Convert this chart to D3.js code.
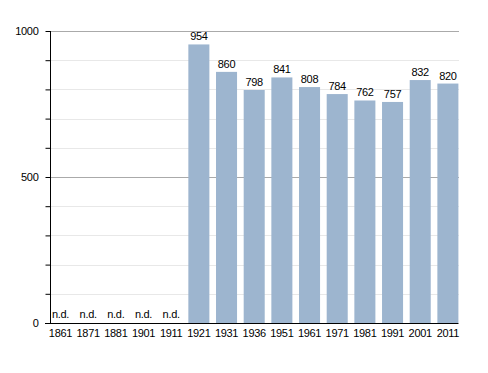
<!DOCTYPE html>
<html><head><meta charset="utf-8">
<script src="https://cdn.jsdelivr.net/npm/d3@7/dist/d3.min.js"></script>
<style>body{margin:0;background:#fff}svg{display:block}text{font-family:"Liberation Sans",Arial,sans-serif;letter-spacing:-0.3px}</style>
</head><body><svg id="c" width="488" height="373"></svg>
<script>
const years = ["1861","1871","1881","1901","1911","1921","1931","1936","1951","1961","1971","1981","1991","2001","2011"];
const values = [null,null,null,null,null,954,860,798,841,808,784,762,757,832,820];
const yTicks = [0,500,1000];
const minorTicks = [100,200,300,400,600,700,800,900];

const svg = d3.select("#c");
const x = d3.scaleBand().domain(years).range([50,458.4]).paddingInner(0.24).paddingOuter(0);
const y = d3.scaleLinear().domain([0,1000]).range([323,31]);

// gridlines
svg.append("g").selectAll("line").data(minorTicks).join("line")
  .attr("x1",50).attr("x2",459).attr("y1",d=>Math.round(y(d))+0.5).attr("y2",d=>Math.round(y(d))+0.5)
  .attr("stroke","#e8e8e8").attr("stroke-width",1);
svg.append("g").selectAll("line").data([500,1000]).join("line")
  .attr("x1",50).attr("x2",459).attr("y1",d=>Math.round(y(d))+0.5).attr("y2",d=>Math.round(y(d))+0.5)
  .attr("stroke","#aaaaaa").attr("stroke-width",1);

// bars
const data = years.map((k,i)=>({k, v: values[i]}));
svg.append("g").selectAll("rect").data(data.filter(d=>d.v!==null)).join("rect")
  .attr("x",d=>x(d.k)).attr("width",x.bandwidth())
  .attr("y",d=>y(d.v)).attr("height",d=>y(0)-y(d.v))
  .attr("fill","#9db5cf");

// value labels
svg.append("g").selectAll("text").data(data).join("text")
  .attr("x",d=>x(d.k)+x.bandwidth()/2)
  .attr("y",d=>d.v===null ? y(0)-5 : y(d.v)-4)
  .attr("text-anchor","middle").attr("font-size",11).attr("fill","#000")
  .text(d=>d.v===null ? "n.d." : d.v);

// left axis
const yAxis = d3.axisLeft(y).tickValues(d3.range(0,1001,100)).tickSize(5).tickFormat(d=>yTicks.includes(d)?d:"");
const ga = svg.append("g").attr("transform","translate(50.5,0)").call(yAxis);
ga.select(".domain").remove();
ga.selectAll(".tick line").attr("stroke","#000");
ga.selectAll(".tick text").attr("font-size",11).attr("font-family","Liberation Sans, Arial, sans-serif").attr("x",-12).attr("fill","#000");
svg.append("line").attr("x1",50.5).attr("x2",50.5).attr("y1",31).attr("y2",323).attr("stroke","#000");

// bottom axis
const xAxis = d3.axisBottom(x).tickSize(0).tickPadding(6);
const gx = svg.append("g").attr("transform","translate(0,323)").call(xAxis);
gx.select(".domain").remove();
gx.selectAll(".tick text").attr("font-size",11).attr("font-family","Liberation Sans, Arial, sans-serif").attr("fill","#000");
svg.append("line").attr("x1",45).attr("x2",458.5).attr("y1",323.5).attr("y2",323.5).attr("stroke","#000");
</script></body></html>
